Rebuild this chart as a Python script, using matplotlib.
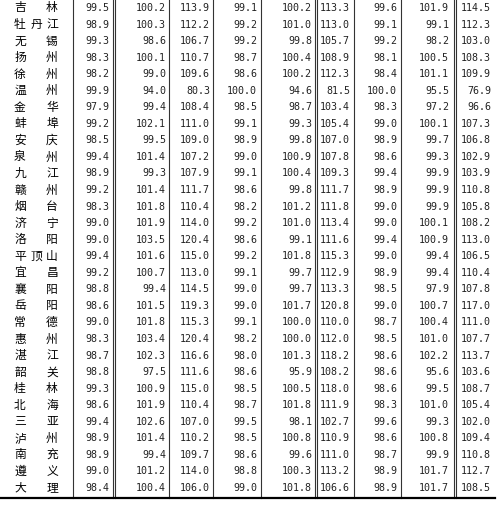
import matplotlib
matplotlib.use("Agg")
import matplotlib.pyplot as plt

# city names and price index values (9 columns)
cities = ["吉林", "牡丹江", "无锡", "扬州", "徐州", "温州", "金华", "蚌埠", "安庆", "泉州",
          "九江", "赣州", "烟台", "济宁", "洛阳", "平顶山", "宜昌", "襄阳", "岳阳", "常德",
          "惠州", "湛江", "韶关", "桂林", "北海", "三亚", "泸州", "南充", "遵义", "大理"]
col1 = [99.5, 98.9, 99.3, 98.3, 98.2, 99.9, 97.9, 99.2, 98.5, 99.4, 98.9, 99.2, 98.3, 99.0, 99.0,
        99.4, 99.2, 98.8, 98.6, 99.0, 98.3, 98.7, 98.8, 99.3, 98.6, 99.4, 98.9, 98.9, 99.0, 98.4]
col2 = [100.2, 100.3, 98.6, 100.1, 99.0, 94.0, 99.4, 102.1, 99.5, 101.4, 99.3, 101.4, 101.8, 101.9, 103.5,
        101.6, 100.7, 99.4, 101.5, 101.8, 103.4, 102.3, 97.5, 100.9, 101.9, 102.6, 101.4, 99.4, 101.2, 100.4]
col3 = [113.9, 112.2, 106.7, 110.7, 109.6, 80.3, 108.4, 111.0, 109.0, 107.2, 107.9, 111.7, 110.4, 114.0, 120.4,
        115.0, 113.0, 114.5, 119.3, 115.3, 120.4, 116.6, 111.6, 115.0, 110.4, 107.0, 110.2, 109.7, 114.0, 106.0]
col4 = [99.1, 99.2, 99.2, 98.7, 98.6, 100.0, 98.5, 99.1, 98.9, 99.0, 99.1, 98.6, 98.2, 99.2, 98.6,
        99.2, 99.1, 99.0, 99.0, 99.1, 98.2, 98.0, 98.6, 98.5, 98.7, 99.5, 98.5, 98.6, 98.8, 99.0]
col5 = [100.2, 101.0, 99.8, 100.4, 100.2, 94.6, 98.7, 99.3, 99.8, 100.9, 100.4, 99.8, 101.2, 101.0, 99.1,
        101.8, 99.7, 99.7, 101.7, 100.0, 100.0, 101.3, 95.9, 100.5, 101.8, 98.1, 100.8, 99.6, 100.3, 101.8]
col6 = [113.3, 113.0, 105.7, 108.9, 112.3, 81.5, 103.4, 105.4, 107.0, 107.8, 109.3, 111.7, 111.8, 113.4, 111.6,
        115.3, 112.9, 113.3, 120.8, 110.0, 112.0, 118.2, 108.2, 118.0, 111.9, 102.7, 110.9, 111.0, 113.2, 106.6]
col7 = [99.6, 99.1, 99.2, 98.1, 98.4, 100.0, 98.3, 99.0, 98.9, 98.6, 99.4, 98.9, 99.0, 99.0, 99.4,
        99.0, 98.9, 98.5, 99.0, 98.7, 98.5, 98.6, 98.6, 98.6, 98.3, 99.6, 98.6, 98.7, 98.9, 98.9]
col8 = [101.9, 99.1, 98.2, 100.5, 101.1, 95.5, 97.2, 100.1, 99.7, 99.3, 99.9, 99.9, 99.9, 100.1, 100.9,
        99.4, 99.4, 97.9, 100.7, 100.4, 101.0, 102.2, 95.6, 99.5, 101.0, 99.3, 100.8, 99.9, 101.7, 101.7]
col9 = [114.5, 112.3, 103.0, 108.3, 109.9, 76.9, 96.6, 107.3, 106.8, 102.9, 103.9, 110.8, 105.8, 108.2, 113.0,
        106.5, 110.4, 107.8, 117.0, 111.0, 107.7, 113.7, 103.6, 108.7, 105.4, 102.0, 109.4, 110.8, 112.7, 108.5]
columns = [col1, col2, col3, col4, col5, col6, col7, col8, col9]

# layout in pixels
col_right = [109, 166, 210, 257, 312, 350, 397, 449, 491]
vlines = [73, 113, 169, 213, 261, 315, 354, 401, 454]
double = {113, 315, 454}
row0, dy = 8, 16.55
bottom = 498

fig = plt.figure(figsize=(5.0, 5.18), dpi=100)
ax = fig.add_axes([0, 0, 1, 1])
ax.set_xlim(0, 500)
ax.set_ylim(518, 0)
ax.axis("off")

cjk = ["Noto Sans CJK SC"]
for i, name in enumerate(cities):
    y = row0 + i * dy
    if len(name) == 2:
        ax.text(20, y, name[0], ha="center", va="center", fontsize=8.5, family=cjk)
        ax.text(52, y, name[1], ha="center", va="center", fontsize=8.5, family=cjk)
    else:
        for k, ch in enumerate(name):
            ax.text(20 + 16 * k, y, ch, ha="center", va="center", fontsize=8.5, family=cjk)
    for vals, xr in zip(columns, col_right):
        ax.text(xr, y, f"{vals[i]:.1f}", ha="right", va="center", fontsize=7.2,
                family="DejaVu Sans Mono", color="#222222")

for x in vlines:
    ax.plot([x, x], [0, bottom], color="#333333", lw=0.8)
    if x in double:
        ax.plot([x + 2, x + 2], [0, bottom], color="#333333", lw=0.8)
ax.plot([1, 495], [bottom, bottom], color="black", lw=1.6)

fig.savefig("out.png", dpi=100)
